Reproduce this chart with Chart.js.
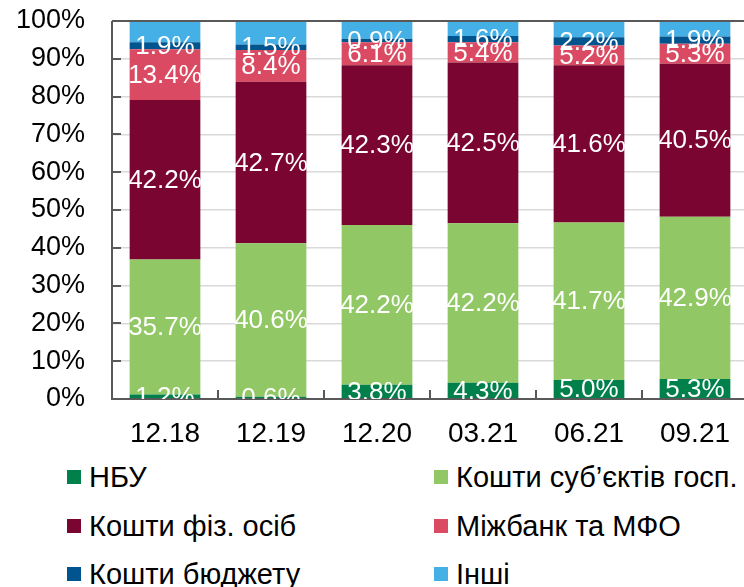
<!DOCTYPE html>
<html lang="uk">
<head>
    <meta charset="UTF-8">
    <title>Структура фондування</title>
    <script src="https://cdn.jsdelivr.net/npm/chart.js"></script>
    <style>
        body {
            margin: 0;
            width: 744px;
            height: 587px;
            overflow: hidden;
            background: #fff;
            font-family: "Liberation Sans", Arial, sans-serif;
        }

        .chart-box {
            position: absolute;
            left: 0;
            top: 0;
            width: 748px;
            height: 455px;
        }

        /* legend in two columns under the chart */
        .legend {
            position: absolute;
            left: 0;
            top: 455px;
            width: 744px;
        }

        .legend-item {
            position: absolute;
            display: flex;
            align-items: center;
            font-family: "Liberation Sans Narrow", "Liberation Sans", Arial, sans-serif;
            font-size: 29px;
            line-height: 34px;
            color: #000;
            white-space: nowrap;
            transform: translateY(-50%);
        }

        .legend-item span.box {
            display: inline-block;
            width: 14px;
            height: 14px;
            margin-right: 8px;
        }
    </style>
</head>
<body>
    <div class="chart-box">
        <canvas id="fundingChart"></canvas>
    </div>
    <div class="legend" id="legend"></div>

    <script>
        // categories (end of period)
        const periods = ['12.18', '12.19', '12.20', '03.21', '06.21', '09.21'];

        // shares, %
        const nbu = [1.2, 0.6, 3.8, 4.3, 5.0, 5.3];
        const businessFunds = [35.7, 40.6, 42.2, 42.2, 41.7, 42.9];
        const householdFunds = [42.2, 42.7, 42.3, 42.5, 41.6, 40.5];
        const interbankMfo = [13.4, 8.4, 6.1, 5.4, 5.2, 5.3];
        const budgetFunds = [1.9, 1.5, 0.9, 1.6, 2.2, 1.9];
        const otherFunds = [5.6, 6.2, 4.7, 4.0, 4.3, 4.1];

        const yTicks = [0, 10, 20, 30, 40, 50, 60, 70, 80, 90, 100];

        const seriesNames = ['НБУ', 'Кошти суб’єктів госп.', 'Кошти фіз. осіб', 'Міжбанк та МФО', 'Кошти бюджету', 'Інші'];
        const seriesData = [nbu, businessFunds, householdFunds, interbankMfo, budgetFunds, otherFunds];
        const seriesColors = ['#00804a', '#92c765', '#7a0530', '#da4b63', '#00558f', '#45b0e6'];

        const axisColor = '#595959';

        // axis lines and inward tick marks
        const frame = {
            id: 'frame',
            afterDatasetsDraw(chart) {
                const { ctx, chartArea: a, scales } = chart;
                ctx.save();
                ctx.strokeStyle = axisColor;
                ctx.lineWidth = 2;
                ctx.beginPath();
                ctx.moveTo(a.left, a.top);
                ctx.lineTo(a.right, a.top);
                ctx.moveTo(a.left, a.top);
                ctx.lineTo(a.left, a.bottom);
                ctx.lineTo(a.right, a.bottom);
                // y ticks
                yTicks.forEach(v => {
                    const y = Math.round(scales.y.getPixelForValue(v));
                    ctx.moveTo(a.left, y);
                    ctx.lineTo(a.left + 9, y);
                });
                // x ticks at category borders
                const step = (a.right - a.left) / periods.length;
                for (let i = 1; i <= periods.length; i++) {
                    const x = Math.round(a.left + step * i);
                    ctx.moveTo(x, a.bottom);
                    ctx.lineTo(x, a.bottom - 9);
                }
                ctx.stroke();
                ctx.restore();
            }
        };

        // value labels in the middle of each segment (no label for "Інші")
        const segmentLabels = {
            id: 'segmentLabels',
            afterDatasetsDraw(chart) {
                const { ctx, chartArea: a } = chart;
                ctx.save();
                ctx.beginPath();
                ctx.rect(a.left, a.top, a.right - a.left, a.bottom - a.top);
                ctx.clip();
                ctx.fillStyle = '#fff';
                ctx.font = '26px "Liberation Sans", Arial, sans-serif';
                ctx.textAlign = 'center';
                ctx.textBaseline = 'middle';
                chart.data.datasets.forEach((ds, i) => {
                    if (i === chart.data.datasets.length - 1) return;
                    chart.getDatasetMeta(i).data.forEach((bar, j) => {
                        const p = bar.getProps(['x', 'y', 'base'], true);
                        ctx.fillText(ds.data[j].toFixed(1) + '%', p.x, (p.y + p.base) / 2 + 1);
                    });
                });
                ctx.restore();
            }
        };

        const ctx = document.getElementById('fundingChart').getContext('2d');
        new Chart(ctx, {
            type: 'bar',
            data: {
                labels: periods,
                datasets: seriesNames.map((name, i) => ({
                    label: name,
                    data: seriesData[i],
                    backgroundColor: seriesColors[i],
                    borderWidth: 0,
                    categoryPercentage: 1,
                    barPercentage: 0.667
                }))
            },
            options: {
                responsive: true,
                maintainAspectRatio: false,
                animation: false,
                layout: { padding: { top: 21, left: 0, right: 0, bottom: 0 } },
                plugins: {
                    legend: { display: false },
                    tooltip: { enabled: false }
                },
                scales: {
                    x: {
                        stacked: true,
                        grid: { display: false, drawTicks: false },
                        border: { display: false },
                        ticks: {
                            color: '#000',
                            padding: 18,
                            font: { family: '"Liberation Sans", Arial, sans-serif', size: 28 }
                        },
                        afterFit(scale) {
                            scale.height = 56;
                            scale.paddingLeft = 0;
                            scale.paddingRight = 0;
                        }
                    },
                    y: {
                        stacked: true,
                        min: 0,
                        max: 100,
                        grid: { color: '#d9d9d9', lineWidth: 1.5, drawTicks: false },
                        border: { display: false },
                        ticks: {
                            stepSize: 10,
                            color: '#000',
                            padding: 27,
                            callback: v => v + '%',
                            font: { family: '"Liberation Sans", Arial, sans-serif', size: 27 }
                        },
                        afterFit(scale) {
                            scale.width = 112;
                            scale.paddingTop = 0;
                            scale.paddingBottom = 0;
                        }
                    }
                }
            },
            plugins: [frame, segmentLabels]
        });

        // html legend, two columns
        const legendBox = document.getElementById('legend');
        const colX = [67, 434];
        const rowY = [22, 70.5, 119];
        seriesNames.forEach((name, i) => {
            const item = document.createElement('div');
            item.className = 'legend-item';
            item.style.left = colX[i % 2] + 'px';
            item.style.top = rowY[Math.floor(i / 2)] + 'px';
            item.innerHTML = '<span class="box" style="background:' + seriesColors[i] + '"></span>' + name;
            legendBox.appendChild(item);
        });
    </script>
</body>
</html>
